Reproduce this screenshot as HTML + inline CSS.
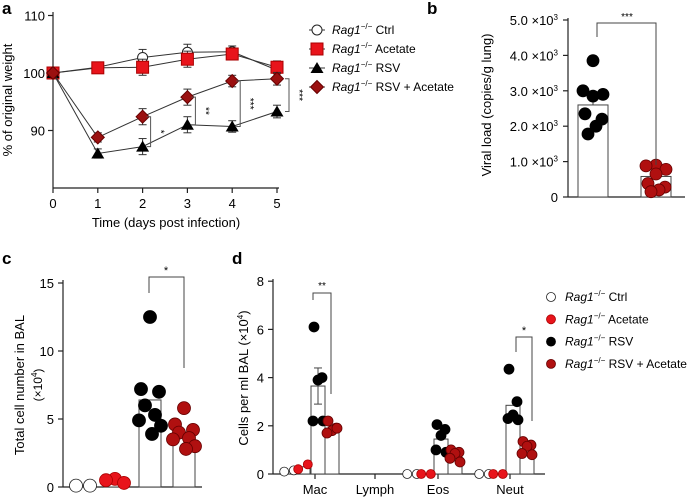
<!DOCTYPE html>
<html><head><meta charset="utf-8"><style>
body{margin:0;background:#fff}
svg{font-family:"Liberation Sans",Arial,sans-serif;display:block}
</style></head><body>
<svg id="s" width="691" height="498" viewBox="0 0 691 498" xmlns="http://www.w3.org/2000/svg"></svg>
<script>
// Panel a data
const aDays=[0,1,2,3,4,5];
const aCtrl=[100,101,102.7,103.6,103.7,100.5];
const aAcet=[100,100.9,101,102.4,103.3,101];
const aRSV=[100,86,87.2,91,90.7,93.3];
const aRSVAc=[100,88.8,92.4,95.8,98.6,99];
const aErr=[0,0.8,1.4,1.4,1,1.1];
const aYTicks=[90,100,110];
// Panel b data
const bRSV=[3.85,3.0,2.9,2.85,2.35,2.2,2.0,1.78];
const bRSVAc=[0.9,0.88,0.78,0.65,0.38,0.28,0.2,0.15];
const bMeans=[2.6,0.58];
const bTicks=["0","1.0 ×10","2.0 ×10","3.0 ×10","4.0 ×10","5.0 ×10"];
// Panel c data
const cMeans=[0.1,0.4,6.4,3.9];
const cPts=[[0.1,0.1],[0.6,0.5,0.3],[12.5,7.2,7.0,6.0,5.3,4.9,4.5,3.9],[5.8,4.6,4.2,4.0,3.6,3.5,3.0,2.8]];
const cTicks=[0,5,10,15];
// Panel d data
const dCats=["Mac","Lymph","Eos","Neut"];
const dMeans=[[0.1,0.3,3.65,1.9],[null,null,null,null],[0,0,1.45,0.7],[0,0,2.85,1.05]];
const dPts=[[[0.1,0.15],[0.2,0.4],[6.1,4.0,3.9,2.2,2.2],[2.2,1.9,1.8,1.7,1.9]],[[],[],[],[]],[[0,0],[0,0],[2.05,1.85,1.6,1.0,0.9],[1.0,0.9,0.85,0.65,0.5]],[[0,0],[0,0],[4.35,3.0,2.45,2.3,2.25],[1.35,1.2,1.15,0.85,0.8]]];
const dTicks=[0,2,4,6,8];

const S=document.getElementById('s');const NS='http://www.w3.org/2000/svg';
function el(t,a,txt){const e=document.createElementNS(NS,t);for(const k in a)e.setAttribute(k,a[k]);if(txt!==undefined)e.textContent=txt;S.appendChild(e);return e;}
function line(x1,y1,x2,y2,c,w){return el('line',{x1,y1,x2,y2,stroke:c||'#222','stroke-width':w||1.2});}
const DR='#9b1010',RD='#e8141b';
function label(x,y,t,name){const e=el('text',{x,y,'font-size':17,'font-weight':'bold'},t);}
label(2,14,'a','panel-a-label');label(427,14,'b','panel-b-label');label(2,264,'c','panel-c-label');label(232,264,'d','panel-d-label');
function rag(x,y,rest,name){const t=el('text',{x,y,'font-size':12});
 t.innerHTML='<tspan font-style="italic">Rag1</tspan><tspan font-size="8" dy="-5">−/−</tspan><tspan dy="5"> '+rest+'</tspan>';}

// ---- Panel a
const ax=d=>53+d*44.8, ay=v=>73-(v-100)*5.75;
let e=line(53,12,53,188);
e=line(53,188,279,188);
aYTicks.forEach(v=>{line(48,ay(v),53,ay(v));const t=el('text',{x:45,y:ay(v)+5,'font-size':13,'text-anchor':'end'},v);});
aDays.forEach(d=>{line(ax(d),188,ax(d),193);const t=el('text',{x:ax(d),y:208,'font-size':13,'text-anchor':'middle'},d);});
e=el('text',{x:166,y:227,'font-size':13,'text-anchor':'middle'},'Time (days post infection)');
e=el('text',{x:0,y:0,'font-size':13,'text-anchor':'middle',transform:'translate(12,100) rotate(-90)'},'% of original weight');
function marker(type,x,y,name){let m;
 if(type==='c')m=el('circle',{cx:x,cy:y,r:5,fill:'#fff',stroke:'#222'});
 else if(type==='s')m=el('rect',{x:x-6,y:y-6,width:12,height:12,fill:RD,stroke:'#a00'});
 else if(type==='t')m=el('path',{d:`M${x},${y-6}L${x+6.5},${y+5}L${x-6.5},${y+5}Z`,fill:'#000'});
 else m=el('path',{d:`M${x},${y-6.5}L${x+6.5},${y}L${x},${y+6.5}L${x-6.5},${y}Z`,fill:DR,stroke:'#600'});
 }
[[aCtrl,'c','ctrl'],[aAcet,'s','acetate'],[aRSV,'t','rsv'],[aRSVAc,'d','rsv-acetate']].forEach(([arr,t,n])=>{
 const p=el('polyline',{points:arr.map((v,i)=>ax(aDays[i])+','+ay(v)).join(' '),fill:'none',stroke:'#333','stroke-width':1});
 arr.forEach((v,i)=>{if(aErr[i]){line(ax(aDays[i]),ay(v+aErr[i]),ax(aDays[i]),ay(v-aErr[i]),'#333',1);line(ax(aDays[i])-4,ay(v+aErr[i]),ax(aDays[i])+4,ay(v+aErr[i]),'#333',1);line(ax(aDays[i])-4,ay(v-aErr[i]),ax(aDays[i])+4,ay(v-aErr[i]),'#333',1);}
  marker(t,ax(aDays[i]),ay(v),'a-point-'+n);});});
[[2,'*'],[3,'**'],[4,'***'],[5,'***']].forEach(([d,s])=>{const x=ax(d)+8+(d===5?4:0),y1=ay(aRSVAc[d]),y2=ay(aRSV[d]);
 el('path',{d:`M${x-4},${y1}H${x}V${y2}H${x-4}`,fill:'none',stroke:'#555','stroke-width':1});
 const t=el('text',{x:0,y:0,'font-size':10,'text-anchor':'middle',transform:`translate(${x+7},${(y1+y2)/2}) rotate(90)`},s);});
[['c','Ctrl'],['s','Acetate'],['t','RSV'],['d','RSV + Acetate']].forEach(([t,n],i)=>{const y=30+i*19;line(309,y,325,y,'#333',1);marker(t,317,y,'a-legend-marker');rag(332,y+4,n,'a-legend-entry');});

// ---- Panel b
const by=v=>197-v*35.4;
e=line(568,18,568,197);
e=line(568,197,685,197);
bTicks.forEach((t,i)=>{line(563,by(i),568,by(i));const tx=el('text',{x:558,y:by(i)+5,'font-size':13,'text-anchor':'end'});
 tx.innerHTML=i?t+'<tspan font-size="8" dy="-5">3</tspan>':t;});
e=el('text',{x:0,y:0,'font-size':13,'text-anchor':'middle',transform:'translate(491,105) rotate(-90)'},'Viral load (copies/g lung)');
const bx=[593,656];
bMeans.forEach((m,i)=>{const r=el('rect',{x:bx[i]-15,y:by(m),width:30,height:197-by(m),fill:'#fff',stroke:'#444','stroke-width':1});});
line(bx[0],by(bMeans[0]+0.25),bx[0],by(bMeans[0]),'#444',1);line(bx[0]-4,by(bMeans[0]+0.25),bx[0]+4,by(bMeans[0]+0.25),'#444',1);
[bRSV,bRSVAc].forEach((arr,g)=>arr.forEach((v,i)=>{const c=el('circle',{cx:bx[g]+[-0,-10,10,0,-8,9,3,-5][i],cy:by(v),r:6,fill:g?'#b01010':'#000',stroke:g?'#600':'#000','stroke-width':0.8});}));
el('path',{d:`M597,37V23H656V165`,fill:'none',stroke:'#444','stroke-width':1});
e=el('text',{x:627,y:20,'font-size':10,'text-anchor':'middle'},'***');

// ---- Panel c
const cy=v=>487-v*13.6;
e=line(63,280,63,487);
e=line(63,487,202,487);
cTicks.forEach(v=>{line(58,cy(v),63,cy(v));const t=el('text',{x:54,y:cy(v)+5,'font-size':13,'text-anchor':'end'},v);});
e=el('text',{x:0,y:0,'font-size':13,'text-anchor':'middle',transform:'translate(24,385) rotate(-90)'},'Total cell number in BAL');
e=el('text',{x:0,y:0,'font-size':12,'text-anchor':'middle',transform:'translate(42,385) rotate(-90)'});e.innerHTML='(×10<tspan font-size="8" dy="-5">4</tspan><tspan dy="5">)</tspan>';
const cx=[83,115,150,184],cf=['#fff',RD,'#000','#b01010'],cs=['#222','#a00','#000','#600'];
cMeans.forEach((m,i)=>{const r=el('rect',{x:cx[i]-11,y:cy(m),width:22,height:487-cy(m),fill:'#fff',stroke:'#444','stroke-width':1});});
const off=[0,-9,9,-5,5,-11,11,2];
cPts.forEach((arr,g)=>arr.forEach((v,i)=>{const dx=g===0?(i?7:-7):off[i];const c=el('circle',{cx:cx[g]+dx,cy:cy(v),r:6.5,fill:cf[g],stroke:cs[g],'stroke-width':0.8});}));
el('path',{d:`M149,293V277H184V368`,fill:'none',stroke:'#444','stroke-width':1});
e=el('text',{x:166,y:274,'font-size':11,'text-anchor':'middle'},'*');

// ---- Panel d
const dcx=[315,375,438,510],doff=[-26,-12,3,17];
const dy=v=>474-v*24.1;
e=line(273,279,273,474);
e=line(273,474,545,474);
dTicks.forEach(v=>{line(268,dy(v),273,dy(v));const t=el('text',{x:264,y:dy(v)+5,'font-size':13,'text-anchor':'end'},v);});
dCats.forEach((c,i)=>{line(dcx[i],474,dcx[i],479);const t=el('text',{x:dcx[i],y:494,'font-size':13,'text-anchor':'middle'},c);});
e=el('text',{x:0,y:0,'font-size':13,'text-anchor':'middle',transform:'translate(248,378) rotate(-90)'});e.innerHTML='Cells per ml BAL (×10<tspan font-size="8" dy="-5">4</tspan><tspan dy="5">)</tspan>';
dMeans.forEach((g,ci)=>g.forEach((m,k)=>{if(m===null)return;const x=dcx[ci]+doff[k];
 const r=el('rect',{x:x-7,y:dy(m),width:14,height:474-dy(m),fill:'#fff',stroke:'#444','stroke-width':1});}));
line(dcx[0]+3,dy(4.4),dcx[0]+3,dy(2.9),'#444',1);line(dcx[0]-1,dy(4.4),dcx[0]+7,dy(4.4),'#444',1);line(dcx[0]-1,dy(2.9),dcx[0]+7,dy(2.9),'#444',1);
const doff2=[-4,4,0,-5,5];
dPts.forEach((g,ci)=>g.forEach((arr,k)=>arr.forEach((v,i)=>{const x=dcx[ci]+doff[k]+doff2[i%5]*(k<2?1.2:1);
 const c=el('circle',{cx:x,cy:dy(v),r:k<2?4.5:5,fill:cf[k],stroke:cs[k],'stroke-width':0.8});})));
el('path',{d:`M313,300V293H331V394`,fill:'none',stroke:'#444','stroke-width':1});
e=el('text',{x:322,y:289,'font-size':10,'text-anchor':'middle'},'**');
el('path',{d:`M516,352V337H532V421`,fill:'none',stroke:'#444','stroke-width':1});
e=el('text',{x:524,y:334,'font-size':11,'text-anchor':'middle'},'*');
[['Ctrl'],['Acetate'],['RSV'],['RSV + Acetate']].forEach(([n],i)=>{const y=297+i*22.3;const c=el('circle',{cx:551,cy:y,r:4.5,fill:cf[i],stroke:cs[i],'stroke-width':0.8});rag(565,y+4,n,'d-legend-entry');});
</script>
</body></html>
